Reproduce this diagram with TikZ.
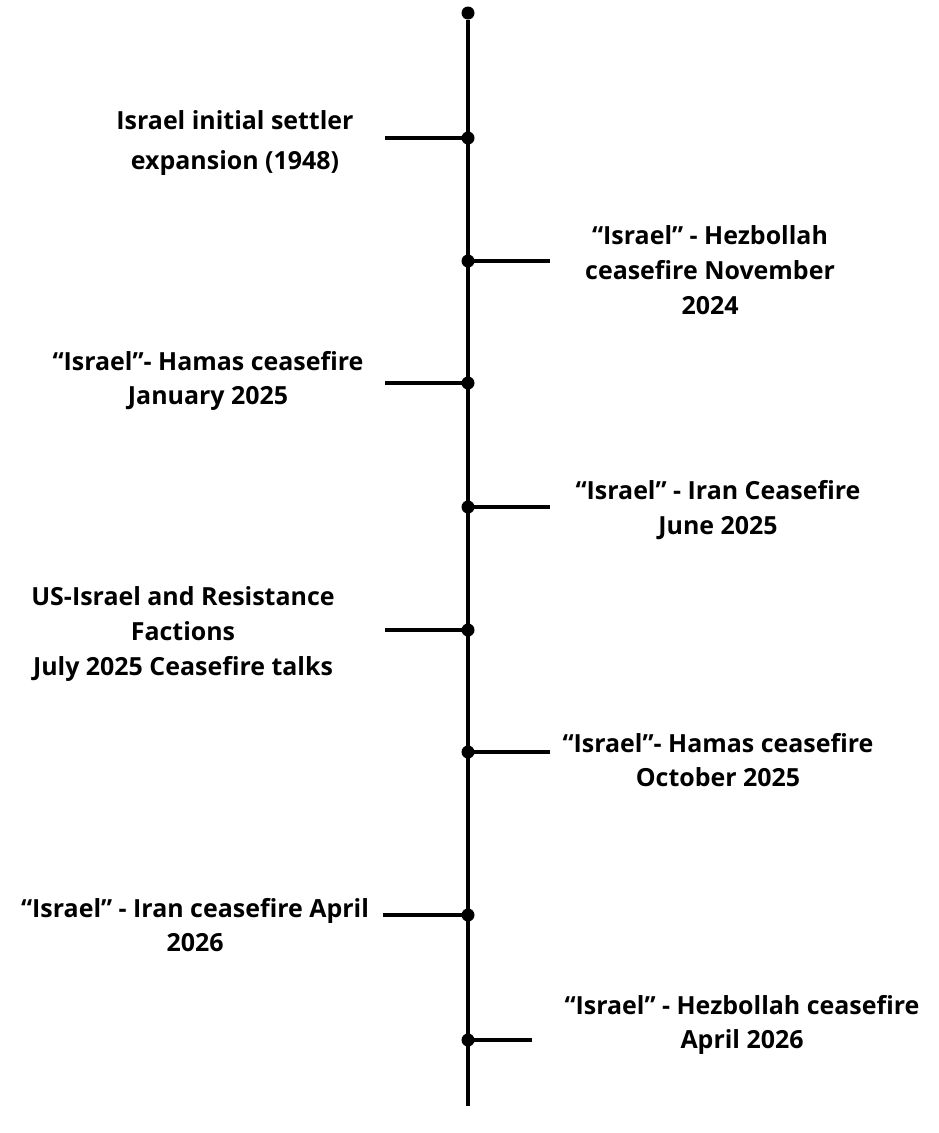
\documentclass[tikz,border=0pt]{standalone}
\usepackage{fontspec}
\setmainfont{Open Sans}
\tikzset{
    event/.style={align=center,font=\fontsize{14.2}{19.8}\selectfont\bfseries,inner sep=0pt},
    dot/.style={circle,fill=black,inner sep=0pt,minimum size=0.26cm},
    axis/.style={line width=2.7pt},
    branch/.style={line width=2.3pt}
}
\begin{document}
\begin{tikzpicture}[x=0.02cm,y=-0.02cm]
                \useasboundingbox (0,0) rectangle (939,1133);
                % main time line
                \node[dot] (top) at (468,13) {};
                \coordinate (bottom) at (468,1106);
                \draw[axis] (top) -- (bottom);
                % events on the line
                \foreach \n/\y in {1/138,2/261,3/383,4/507,5/630,6/752,7/915,8/1040}
                {
                    \node[dot] (d\n) at (468,\y) {};
                }
                \coordinate (e1) at (385,138);
                \coordinate (e2) at (550,261);
                \coordinate (e3) at (385,383);
                \coordinate (e4) at (550,507);
                \coordinate (e5) at (385,630);
                \coordinate (e6) at (550,752);
                \coordinate (e7) at (383,915);
                \coordinate (e8) at (532,1040);
                \foreach \n in {1,...,8}
                {
                    \draw[branch] (d\n.center) -- (e\n);
                }
                \node[event] (t1) at (235,143) {Israel initial settler\\[2.5pt]expansion (1948)};
                \node[event] (t2) at (710,270) {“Israel” - Hezbollah\\ceasefire November\\2024};
                \node[event] (t3) at (208,381) {“Israel”- Hamas ceasefire\\January 2025};
                \node[event] (t4) at (718,510) {“Israel” - Iran Ceasefire\\June 2025};
                \node[event] (t5) at (183,634) {US-Israel and Resistance\\Factions\\July 2025 Ceasefire talks};
                \node[event] (t6) at (718,760) {“Israel”- Hamas ceasefire\\October 2025};
                \node[event] (t7) at (195,925) {“Israel” - Iran ceasefire April\\2026};
                \node[event] (t8) at (742,1025) {“Israel” - Hezbollah ceasefire\\April 2026};
\end{tikzpicture}
\end{document}
